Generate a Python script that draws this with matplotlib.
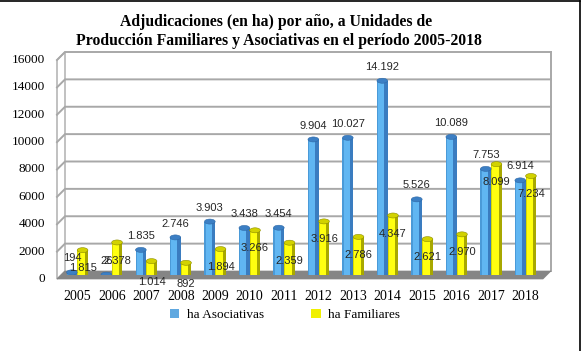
import matplotlib
matplotlib.use('Agg')
import matplotlib.pyplot as plt
import matplotlib.transforms as mt
from matplotlib.patches import Polygon, Ellipse, Patch
from matplotlib.lines import Line2D
import numpy as np

years = ['2005', '2006', '2007', '2008', '2009', '2010', '2011', '2012',
         '2013', '2014', '2015', '2016', '2017', '2018']
asociativas = [194, 26, 1835, 2746, 3903, 3438, 3454, 9904, 10027, 14192,
               5526, 10089, 7753, 6914]
familiares = [1815, 2378, 1014, 892, 1894, 3266, 2359, 3916, 2786, 4347,
              2621, 2970, 8099, 7234]
yticks = [0, 2000, 4000, 6000, 8000, 10000, 12000, 14000, 16000]
series_names = ['ha Asociativas', 'ha Familiares']
title1 = 'Adjudicaciones (en ha) por año, a Unidades de'
title2 = 'Producción Familiares y Asociativas en el período 2005-2018'

W, H = 583, 351
DPI = 100
fig = plt.figure(figsize=(W / DPI, H / DPI), dpi=DPI)
fig.patch.set_facecolor('white')

L, R, B, T = 61, 547, 275, 56
ax = fig.add_axes([L / W, 1 - B / H, (R - L) / W, (B - T) / H])
ax.set_xlim(-0.47, 13.62)
ax.set_ylim(0, 16000)
ax.patch.set_visible(False)
for s in ax.spines.values():
    s.set_visible(False)
ax.set_yticks([])

SERIF = 'Liberation Serif'
SANS = 'Liberation Sans'


def off(dx, dy):
    return mt.ScaledTranslation(dx / DPI, dy / DPI, fig.dpi_scale_trans)


blend = mt.blended_transform_factory(ax.transAxes, ax.transData)
back = blend + off(4, 4)
dxa = 8 / (R - L)
dyd = 8 / (B - T) * 16000
grid_c = '#a8a8a8'

# left wall
ax.add_patch(Polygon([(0, 0), (0, 16000), (-dxa, 16000 - dyd), (-dxa, -dyd)],
                     closed=True, transform=back, facecolor='white',
                     edgecolor=grid_c, lw=1.0, clip_on=False, zorder=0.5))
# floor
ax.add_patch(Polygon([(0, 0), (1, 0), (1 - dxa, -dyd), (-dxa, -dyd)],
                     closed=True, transform=back, facecolor='#858585',
                     edgecolor='#858585', lw=0.5, clip_on=False, zorder=1))
# gridlines
for v in yticks[1:]:
    ax.plot([-dxa, 0, 1], [v - dyd, v, v], transform=back, color=grid_c,
            lw=1.4, clip_on=False, zorder=0.8, solid_joinstyle='miter')
ax.plot([1, 1], [0, 16000], transform=back, color=grid_c, lw=1.4,
        clip_on=False, zorder=0.8)

# y tick labels (front edge)
for v in yticks:
    ax.text(0, v, str(v), transform=blend + off(-16, -4), ha='right',
            va='center', fontsize=9.5, family=SERIF, color='black')

x = np.arange(len(years))
w = 0.31
o = 0.155


def draw_bars(xc, vals, face, left, side, top, topedge):
    ax.bar(xc, vals, width=w, color=face, zorder=3, linewidth=0)
    sw = w * 0.3
    ax.bar(xc + w / 2 - sw / 2, vals, width=sw, color=side, zorder=3.1,
           linewidth=0)
    lw_ = w * 0.12
    ax.bar(xc - w / 2 + lw_ / 2, vals, width=lw_, color=left, zorder=3.1,
           linewidth=0)
    cap = 5 / (B - T) * 16000
    for xi, v in zip(xc, vals):
        ax.add_patch(Ellipse((xi, v), w, cap, facecolor=top,
                             edgecolor=topedge, lw=0.4, zorder=3.2))


draw_bars(x - o, asociativas, '#60b6f2', '#4a9ad8', '#3a7cc0', '#3c7fc4',
          '#2f6aa8')
draw_bars(x + o, familiares, '#ffff10', '#d8d800', '#a8a800', '#d2d200',
          '#8c8c00')


def fmt(v):
    return f'{v:,}'.replace(',', '.')


for xi, v in zip(x - o, asociativas):
    ax.annotate(fmt(v), (xi, v), xytext=(0, 10), textcoords='offset points',
                ha='center', va='center', fontsize=8, family=SANS,
                color='#262626', zorder=5)
for xi, v in zip(x + o, familiares):
    dy = -13 if v > 1500 else -15
    ax.annotate(fmt(v), (xi, v), xytext=(0, dy), textcoords='offset points',
                ha='center', va='center', fontsize=8, family=SANS,
                color='#262626', zorder=5, annotation_clip=False)

ax.set_xticks(x, years)
ax.tick_params(axis='x', length=0, pad=11, labelsize=10)
for lab in ax.get_xticklabels():
    lab.set_family(SERIF)

# title
fig.text(276 / W, 1 - 22 / H, title1, ha='center', va='center',
         fontsize=11.3, fontweight='bold', family=SERIF)
fig.text(279 / W, 1 - 41 / H, title2, ha='center', va='center',
         fontsize=11.3, fontweight='bold', family=SERIF)

# legend
handles = [Patch(facecolor='#5fa8e0', edgecolor='none'),
           Patch(facecolor='#f0f000', edgecolor='none')]
fig.legend(handles, series_names, loc='center',
           bbox_to_anchor=(285 / W, 1 - 315 / H), ncol=2, frameon=False,
           prop={'family': SERIF, 'size': 9.5}, handlelength=0.7,
           handleheight=0.7, handletextpad=0.6, columnspacing=3.6)

# outer frame (top and right)
fig.add_artist(Line2D([0, 580 / W], [1 - 1 / H, 1 - 1 / H],
                      transform=fig.transFigure, color='black', lw=1.2))
fig.add_artist(Line2D([580 / W, 580 / W], [0, 1 - 1 / H],
                      transform=fig.transFigure, color='black', lw=1.2))

fig.savefig('out.png', dpi=DPI, facecolor='white')
